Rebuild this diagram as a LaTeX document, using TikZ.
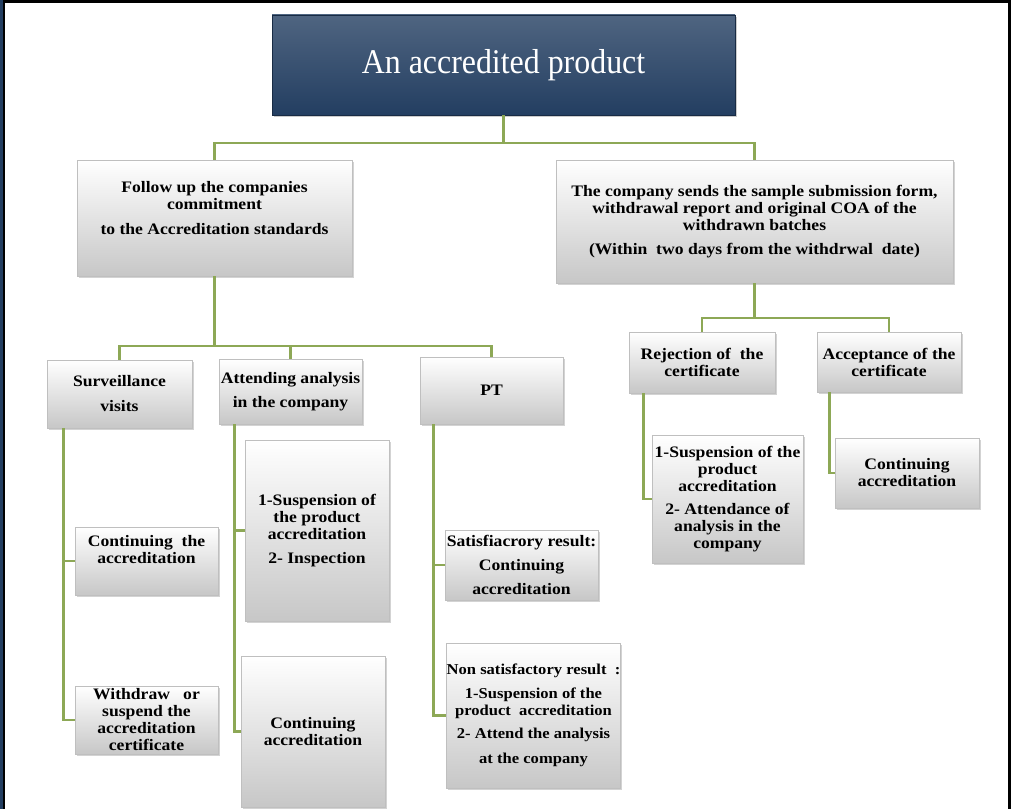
\documentclass[tikz,border=0pt]{standalone}
\usepackage{fontspec}
\setmainfont{Liberation Serif}
\newfontfamily\boxfont[FakeStretch=1.1]{Liberation Serif}
\newfontfamily\titlefont[FakeStretch=0.92]{Liberation Serif}
\usetikzlibrary{positioning,shadows}
\definecolor{navy}{RGB}{35,62,97}
\definecolor{leaf}{RGB}{141,168,86}

\begin{document}
\begin{tikzpicture}[x=0.75pt, y=-0.75pt,
  box/.style={draw=black!25, top color=white, bottom color=black!22,
    drop shadow={opacity=0.35, shadow xshift=1.2pt, shadow yshift=-1.5pt},
    font=\boxfont\bfseries\fontsize{12}{12.75}\selectfont, align=center, inner sep=1pt},
  head/.style={draw=navy!70!black, top color=navy!80!white, bottom color=navy, text=white,
    drop shadow={opacity=0.4, shadow xshift=1.2pt, shadow yshift=-1.5pt},
    font=\titlefont\fontsize{26}{30}\selectfont},
  link/.style={draw=leaf, line width=2.2pt}]

  % frame
  \useasboundingbox (0,0) rectangle (1013,809);
  \fill[navy] (0,0) rectangle (3,809);
  \fill[black] (3,0) rectangle (5,809);
  \fill[black] (3,0) rectangle (1011,3);
  \fill[black] (1008,0) rectangle (1011,809);

  % top level
  \node[head, minimum width=347.25pt, minimum height=75pt] (top) at (503.5,65) {An accredited product};

  \node[box, minimum width=206.25pt, minimum height=87pt] (f1) at (214.5,218)
    {Follow up the companies\\ commitment\\[6pt] to the Accreditation standards\\[2pt]\mbox{}};
  \node[box, minimum width=297.75pt, minimum height=92.25pt] (s1) at (754.5,221.5)
    {The company sends the sample submission form,\\ withdrawal report and original COA of the\\ withdrawn batches\\[5pt] (Within\ \ two days from the withdrwal\ \ date)};

  % second level
  \node[box, minimum width=108.75pt, minimum height=51pt] (sv) at (119.5,394) {Surveillance\\[6pt] visits};
  \node[box, minimum width=107.25pt, minimum height=48.75pt] (at) at (290.5,391.5) {Attending analysis\\[5pt] in the company};
  \node[box, minimum width=107.25pt, minimum height=50.25pt] (pt) at (491.5,390.5) {PT};
  \node[box, minimum width=109.5pt, minimum height=45.75pt] (rj) at (702,362.5) {Rejection of\ \ the\\ certificate};
  \node[box, minimum width=108pt, minimum height=45pt] (ac) at (889,362) {Acceptance of the\\ certificate};

  % third level
  \node[box, minimum width=107.25pt, minimum height=51pt] (sv1) at (146.5,561) {Continuing\ \ the\\ accreditation\\[4pt]\mbox{}};
  \node[box, minimum width=107.25pt, minimum height=51pt] (sv2) at (146.5,720) {Withdraw\ \ \ or\\ suspend the\\ accreditation\\ certificate};
  \node[box, minimum width=108pt, minimum height=135.75pt] (at1) at (317,530.5) {1-Suspension of\\ the product\\ accreditation\\[5pt] 2- Inspection};
  \node[box, minimum width=108pt, minimum height=113.25pt] (at2) at (313,731.5) {Continuing\\ accreditation};
  \node[box, minimum width=114.75pt, minimum height=52.5pt] (pt1) at (521.5,565) {Satisfiacrory result:\\[5pt] Continuing\\[5pt] accreditation};
  \node[box, minimum width=129.75pt, minimum height=108.75pt, inner sep=0pt,
    font=\boxfont\bfseries\fontsize{11.3}{12.75}\selectfont] (pt2) at (533.5,715.5)
    {Non satisfactory result\ \ :\\[5pt] 1-Suspension of the\\ product\ \ accreditation\\[5pt] 2- Attend the analysis\\[6pt] at the company};
  \node[box, minimum width=113.25pt, minimum height=96pt] (rj1) at (727.5,499)
    {1-Suspension of the\\ product\\ accreditation\\[5pt] 2- Attendance of\\ analysis in the\\ company};
  \node[box, minimum width=108pt, minimum height=52.5pt] (ac1) at (907,473) {Continuing\\ accreditation};

  % junctions
  \coordinate (j0) at (503.5,143);
  \coordinate (j1) at (214.5,346);
  \coordinate (j2) at (754.5,318);

  % links
  \draw[link] (top.south) -- (j0);
  \draw[link] (f1.north) |- (j0) -| (s1.north);

  \draw[link] (f1.south) -- (j1);
  \draw[link] (sv.north) |- (j1) -| (pt.north);
  \draw[link] (j1 -| at.north) -- (at.north);

  \draw[link] (s1.south) -- (j2);
  \draw[link] (rj.north) |- (j2) -| (ac.north);

  \draw[link] ([xshift=12.75pt]sv.south west) |- (sv1.west);
  \draw[link] ([xshift=12.75pt]sv.south west) |- (sv2.west);
  \draw[link] ([xshift=12pt]at.south west) |- (at1.west);
  \draw[link] ([xshift=12pt]at.south west) |- (at2.west);
  \draw[link] ([xshift=10.5pt]pt.south west) |- (pt1.west);
  \draw[link] ([xshift=10.5pt]pt.south west) |- (pt2.west);
  \draw[link] ([xshift=11.25pt]rj.south west) |- (rj1.west);
  \draw[link] ([xshift=9.75pt]ac.south west) |- (ac1.west);

\end{tikzpicture}
\end{document}
